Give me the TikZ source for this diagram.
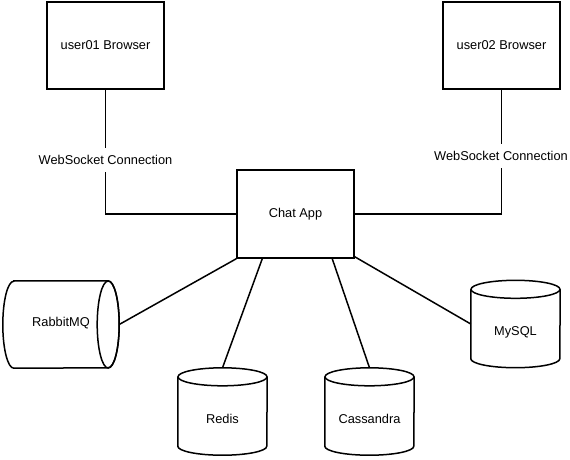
\documentclass[tikz,border=0pt]{standalone}
\usepackage{fontspec}
\setmainfont{Liberation Sans}
\usetikzlibrary{calc}
\begin{document}
\begin{tikzpicture}[x=1pt,y=-1pt,
  every node/.style={font=\fontsize{12.8}{15}\selectfont},
  line/.style={line width=1.5pt,black},
  box/.style={draw,line width=1.5pt,minimum width=117pt,minimum height=87pt,inner sep=0pt},
  cylarea/.style={minimum width=89pt,minimum height=87pt,inner sep=0pt},
  hcylarea/.style={minimum width=116pt,minimum height=87pt,inner sep=0pt},
  lbl/.style={fill=white,inner sep=2pt,minimum height=24pt}
]
\useasboundingbox (0,0) rectangle (570,459);

% boxes
\node[box] (u1) at (105.5,45.5) {user01 Browser};
\node[box] (u2) at (501.5,45.5) {user02 Browser};
\node[box,minimum height=88pt] (chat) at (295.5,214) {Chat App};

% cylinder areas
\node[hcylarea] (rab) at (61,324.5) {};
\node[cylarea] (redis) at (222.5,411.5) {};
\node[cylarea] (cass) at (369.5,411.5) {};
\node[cylarea] (mysql) at (515.5,324) {};

% vertical cylinders
\foreach \c in {redis,cass,mysql}{
  \draw[line] ([yshift=-9pt]\c.north) ellipse (44.5pt and 9pt);
  \draw[line] ([yshift=-9pt]\c.north west) -- ([yshift=9pt]\c.south west)
     arc(180:360:44.5pt and 9pt) -- ([yshift=-9pt]\c.north east);
}
% horizontal cylinder
\draw[line] ([xshift=11pt]rab.north west) -- ([xshift=-11pt]rab.north east)
   arc(90:-90:11pt and 43.5pt) -- ([xshift=11pt]rab.south west)
   arc(270:90:11pt and 43.5pt) -- cycle;
\draw[line] ([xshift=-11pt]rab.east) ellipse (11pt and 43.5pt);

% cylinder texts
\node (rabt) at (61,323) {RabbitMQ};
\node (redist) at (222.5,419) {Redis};
\node (casst) at (369.5,419) {Cassandra};
\node (mysqlt) at (515.5,332) {MySQL};

% connectors
\draw[line] (u1.south) |- (chat.west);
\draw[line] (u2.south) |- (chat.east);
\node[lbl] (ws1) at (105.5,160) {WebSocket Connection};
\node[lbl] (ws2) at (501,155.5) {WebSocket Connection};

\draw[line] (chat.south west) -- (rab.east);
\draw[line] ([xshift=26pt]chat.south west) -- (redis.north);
\draw[line] ([xshift=96pt]chat.south west) -- (cass.north);
\draw[line] ([yshift=2pt]chat.south east) -- (mysql.west);
\end{tikzpicture}
\end{document}
